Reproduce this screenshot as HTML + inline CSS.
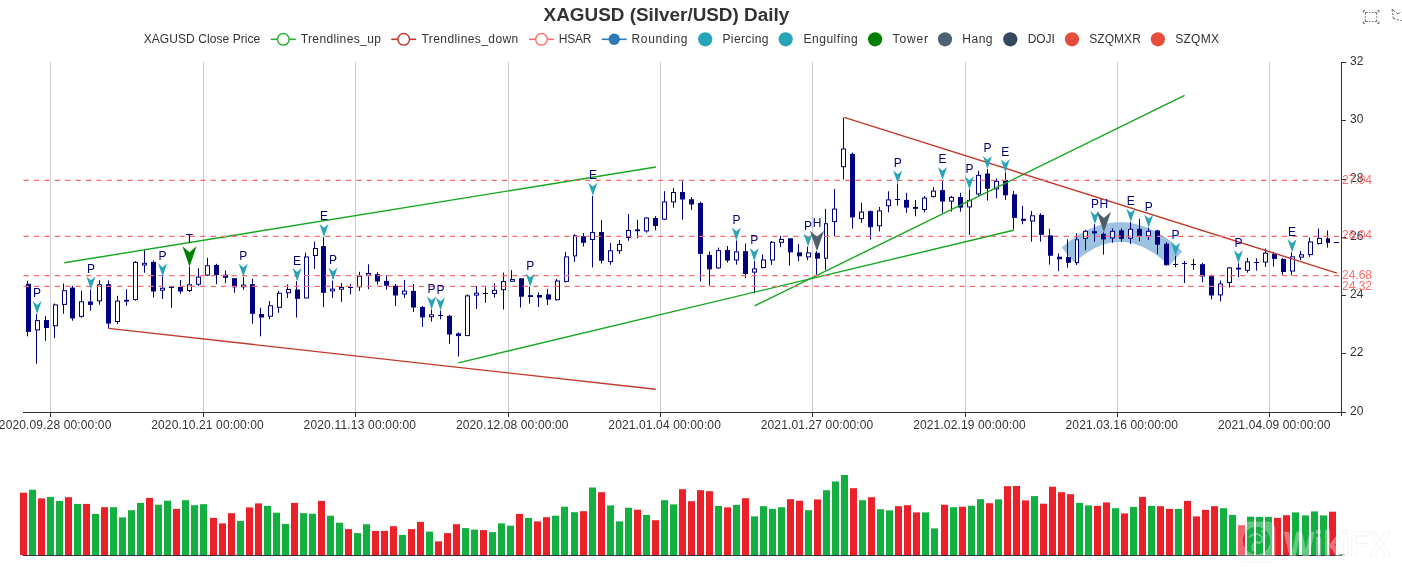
<!DOCTYPE html>
<html lang="en"><head><meta charset="utf-8"><title>XAGUSD (Silver/USD) Daily</title>
<style>html,body{margin:0;padding:0;background:#fff}body{width:1402px;height:578px;overflow:hidden;font-family:"Liberation Sans", Arial, sans-serif}svg{display:block;position:absolute;left:0;top:0}text{font-family:"Liberation Sans", Arial, sans-serif}</style></head><body>
<svg width="1402" height="578" viewBox="0 0 1402 578">
<rect width="1402" height="578" fill="#fff"/>
<g fill="#ccc">
<rect x="50" y="62" width="1" height="350"/>
<rect x="203" y="62" width="1" height="350"/>
<rect x="355" y="62" width="1" height="350"/>
<rect x="508" y="62" width="1" height="350"/>
<rect x="660" y="62" width="1" height="350"/>
<rect x="812" y="62" width="1" height="350"/>
<rect x="965" y="62" width="1" height="350"/>
<rect x="1117" y="62" width="1" height="350"/>
<rect x="1269" y="62" width="1" height="350"/>
</g>
<polyline fill="none" stroke="#9cc2df" stroke-width="19.6" stroke-linejoin="round" points="1068.0,255.0 1072.5,251.2 1077.0,247.7 1081.5,244.6 1086.0,241.8 1090.5,239.4 1094.9,237.3 1099.4,235.6 1103.9,234.2 1108.4,233.1 1112.9,232.4 1117.4,232.1 1121.9,232.0 1126.4,232.3 1130.9,233.0 1135.4,234.0 1139.9,235.4 1144.4,237.0 1148.8,239.1 1153.3,241.4 1157.8,244.2 1162.3,247.2 1166.8,250.6 1171.3,254.4 1175.8,258.5"/>
<g stroke="#00007f" stroke-width="1">
<line x1="27.5" y1="280.9" x2="27.5" y2="284.3"/>
<line x1="27.5" y1="331.3" x2="27.5" y2="336.4"/>
<rect x="26.5" y="284.3" width="4.0" height="47.0" fill="#00007f"/>
<line x1="36.5" y1="314.1" x2="36.5" y2="320.6"/>
<line x1="36.5" y1="329.9" x2="36.5" y2="363.7"/>
<rect x="35.5" y="320.6" width="4.0" height="9.3" fill="#fff"/>
<line x1="45.5" y1="316.0" x2="45.5" y2="320.6"/>
<line x1="45.5" y1="327.5" x2="45.5" y2="340.8"/>
<rect x="44.5" y="320.6" width="4.0" height="6.9" fill="#00007f"/>
<line x1="54.5" y1="303.5" x2="54.5" y2="304.9"/>
<line x1="54.5" y1="325.8" x2="54.5" y2="338.2"/>
<rect x="53.5" y="304.9" width="4.0" height="20.9" fill="#fff"/>
<line x1="63.5" y1="283.5" x2="63.5" y2="290.7"/>
<line x1="63.5" y1="304.4" x2="63.5" y2="313.8"/>
<rect x="62.5" y="290.7" width="4.0" height="13.7" fill="#fff"/>
<line x1="72.5" y1="285.9" x2="72.5" y2="288.1"/>
<line x1="72.5" y1="317.9" x2="72.5" y2="320.7"/>
<rect x="70.5" y="288.1" width="4.0" height="29.8" fill="#00007f"/>
<line x1="81.5" y1="290.7" x2="81.5" y2="301.8"/>
<line x1="81.5" y1="316.4" x2="81.5" y2="317.7"/>
<rect x="79.5" y="301.8" width="4.0" height="14.6" fill="#fff"/>
<line x1="90.5" y1="289.5" x2="90.5" y2="302.0"/>
<line x1="90.5" y1="304.4" x2="90.5" y2="310.7"/>
<rect x="88.5" y="302.0" width="4.0" height="2.4" fill="#00007f"/>
<line x1="99.5" y1="280.1" x2="99.5" y2="284.8"/>
<line x1="99.5" y1="301.0" x2="99.5" y2="304.7"/>
<rect x="97.5" y="284.8" width="4.0" height="16.1" fill="#fff"/>
<line x1="108.5" y1="280.4" x2="108.5" y2="284.7"/>
<line x1="108.5" y1="323.1" x2="108.5" y2="328.4"/>
<rect x="106.5" y="284.7" width="4.0" height="38.4" fill="#00007f"/>
<line x1="117.5" y1="295.8" x2="117.5" y2="301.1"/>
<line x1="117.5" y1="321.5" x2="117.5" y2="324.1"/>
<rect x="115.5" y="301.1" width="4.0" height="20.4" fill="#fff"/>
<line x1="126.5" y1="289.3" x2="126.5" y2="300.3"/>
<line x1="126.5" y1="301.1" x2="126.5" y2="305.6"/>
<rect x="124.5" y="300.3" width="4.0" height="0.8" fill="#00007f"/>
<line x1="135.5" y1="261.0" x2="135.5" y2="262.4"/>
<line x1="135.5" y1="299.6" x2="135.5" y2="300.6"/>
<rect x="133.5" y="262.4" width="4.0" height="37.2" fill="#fff"/>
<line x1="144.5" y1="250.1" x2="144.5" y2="263.3"/>
<line x1="144.5" y1="265.0" x2="144.5" y2="272.7"/>
<rect x="142.5" y="263.3" width="4.0" height="1.7" fill="#fff"/>
<line x1="153.5" y1="260.4" x2="153.5" y2="262.4"/>
<line x1="153.5" y1="291.0" x2="153.5" y2="297.5"/>
<rect x="151.5" y="262.4" width="4.0" height="28.6" fill="#00007f"/>
<line x1="162.5" y1="276.4" x2="162.5" y2="288.3"/>
<line x1="162.5" y1="290.2" x2="162.5" y2="298.9"/>
<rect x="160.5" y="288.3" width="4.0" height="1.9" fill="#fff"/>
<line x1="171.5" y1="286.7" x2="171.5" y2="307.8"/>
<line x1="169.0" y1="287.5" x2="174.0" y2="287.5"/>
<line x1="180.5" y1="280.1" x2="180.5" y2="287.4"/>
<line x1="180.5" y1="291.0" x2="180.5" y2="293.8"/>
<rect x="178.5" y="287.4" width="4.0" height="3.6" fill="#00007f"/>
<line x1="189.5" y1="266.7" x2="189.5" y2="284.8"/>
<line x1="189.5" y1="290.5" x2="189.5" y2="292.0"/>
<rect x="187.5" y="284.8" width="4.0" height="5.7" fill="#fff"/>
<line x1="198.5" y1="268.4" x2="198.5" y2="277.1"/>
<line x1="198.5" y1="284.2" x2="198.5" y2="286.0"/>
<rect x="196.5" y="277.1" width="4.0" height="7.1" fill="#fff"/>
<line x1="207.5" y1="257.8" x2="207.5" y2="265.8"/>
<line x1="207.5" y1="275.1" x2="207.5" y2="276.1"/>
<rect x="205.5" y="265.8" width="4.0" height="9.3" fill="#fff"/>
<line x1="216.5" y1="263.8" x2="216.5" y2="265.5"/>
<line x1="216.5" y1="274.4" x2="216.5" y2="284.2"/>
<rect x="214.5" y="265.5" width="4.0" height="8.9" fill="#00007f"/>
<line x1="225.5" y1="270.5" x2="225.5" y2="275.2"/>
<line x1="225.5" y1="277.3" x2="225.5" y2="283.3"/>
<rect x="223.5" y="275.2" width="4.0" height="2.1" fill="#00007f"/>
<line x1="234.5" y1="286.7" x2="234.5" y2="292.7"/>
<rect x="232.5" y="278.7" width="4.0" height="8.1" fill="#00007f"/>
<line x1="243.5" y1="276.8" x2="243.5" y2="285.1"/>
<line x1="243.5" y1="286.8" x2="243.5" y2="289.8"/>
<rect x="241.5" y="285.1" width="4.0" height="1.7" fill="#fff"/>
<line x1="252.5" y1="278.7" x2="252.5" y2="284.7"/>
<line x1="252.5" y1="313.3" x2="252.5" y2="323.7"/>
<rect x="250.5" y="284.7" width="4.0" height="28.6" fill="#00007f"/>
<line x1="260.5" y1="307.6" x2="260.5" y2="314.6"/>
<line x1="260.5" y1="317.0" x2="260.5" y2="336.4"/>
<rect x="259.5" y="314.6" width="4.0" height="2.4" fill="#00007f"/>
<line x1="269.5" y1="301.1" x2="269.5" y2="305.8"/>
<line x1="269.5" y1="316.2" x2="269.5" y2="319.3"/>
<rect x="268.5" y="305.8" width="4.0" height="10.4" fill="#fff"/>
<line x1="278.5" y1="291.0" x2="278.5" y2="293.3"/>
<line x1="278.5" y1="307.4" x2="278.5" y2="312.8"/>
<rect x="277.5" y="293.3" width="4.0" height="14.0" fill="#fff"/>
<line x1="287.5" y1="284.3" x2="287.5" y2="289.4"/>
<line x1="287.5" y1="292.9" x2="287.5" y2="298.0"/>
<rect x="286.5" y="289.4" width="4.0" height="3.4" fill="#fff"/>
<line x1="296.5" y1="281.2" x2="296.5" y2="290.0"/>
<line x1="296.5" y1="298.3" x2="296.5" y2="317.5"/>
<rect x="295.5" y="290.0" width="4.0" height="8.3" fill="#00007f"/>
<line x1="305.5" y1="252.6" x2="305.5" y2="257.0"/>
<rect x="304.5" y="257.0" width="4.0" height="41.0" fill="#fff"/>
<line x1="314.5" y1="241.7" x2="314.5" y2="248.5"/>
<line x1="314.5" y1="255.5" x2="314.5" y2="269.0"/>
<rect x="313.5" y="248.5" width="4.0" height="7.0" fill="#fff"/>
<line x1="323.5" y1="237.1" x2="323.5" y2="246.6"/>
<line x1="323.5" y1="292.3" x2="323.5" y2="307.1"/>
<rect x="321.5" y="246.6" width="4.0" height="45.7" fill="#00007f"/>
<line x1="332.5" y1="280.6" x2="332.5" y2="289.2"/>
<line x1="332.5" y1="290.9" x2="332.5" y2="298.1"/>
<rect x="330.5" y="289.2" width="4.0" height="1.7" fill="#fff"/>
<line x1="341.5" y1="283.0" x2="341.5" y2="287.5"/>
<line x1="341.5" y1="289.2" x2="341.5" y2="301.9"/>
<rect x="339.5" y="287.5" width="4.0" height="1.7" fill="#fff"/>
<line x1="350.5" y1="284.0" x2="350.5" y2="294.4"/>
<line x1="348.0" y1="287.5" x2="353.0" y2="287.5"/>
<line x1="359.5" y1="271.8" x2="359.5" y2="276.2"/>
<line x1="359.5" y1="286.8" x2="359.5" y2="290.9"/>
<rect x="357.5" y="276.2" width="4.0" height="10.6" fill="#fff"/>
<line x1="368.5" y1="264.3" x2="368.5" y2="273.5"/>
<line x1="368.5" y1="275.2" x2="368.5" y2="289.2"/>
<rect x="366.5" y="273.5" width="4.0" height="1.7" fill="#fff"/>
<line x1="377.5" y1="272.2" x2="377.5" y2="274.7"/>
<line x1="377.5" y1="281.0" x2="377.5" y2="284.6"/>
<rect x="375.5" y="274.7" width="4.0" height="6.3" fill="#00007f"/>
<line x1="386.5" y1="275.3" x2="386.5" y2="281.4"/>
<line x1="386.5" y1="285.2" x2="386.5" y2="289.8"/>
<rect x="384.5" y="281.4" width="4.0" height="3.8" fill="#00007f"/>
<line x1="395.5" y1="284.0" x2="395.5" y2="286.2"/>
<line x1="395.5" y1="294.9" x2="395.5" y2="306.0"/>
<rect x="393.5" y="286.2" width="4.0" height="8.8" fill="#00007f"/>
<line x1="404.5" y1="280.1" x2="404.5" y2="291.1"/>
<line x1="404.5" y1="294.1" x2="404.5" y2="298.1"/>
<rect x="402.5" y="291.1" width="4.0" height="2.9" fill="#fff"/>
<line x1="413.5" y1="284.0" x2="413.5" y2="291.4"/>
<line x1="413.5" y1="307.0" x2="413.5" y2="312.0"/>
<rect x="411.5" y="291.4" width="4.0" height="15.6" fill="#00007f"/>
<line x1="422.5" y1="306.0" x2="422.5" y2="307.5"/>
<line x1="422.5" y1="316.9" x2="422.5" y2="326.8"/>
<rect x="420.5" y="307.5" width="4.0" height="9.4" fill="#00007f"/>
<line x1="431.5" y1="309.5" x2="431.5" y2="314.8"/>
<line x1="431.5" y1="316.7" x2="431.5" y2="321.6"/>
<rect x="429.5" y="314.8" width="4.0" height="1.9" fill="#fff"/>
<line x1="440.5" y1="310.6" x2="440.5" y2="319.3"/>
<line x1="438.0" y1="315.5" x2="443.0" y2="315.5"/>
<line x1="449.5" y1="315.1" x2="449.5" y2="316.3"/>
<line x1="449.5" y1="333.9" x2="449.5" y2="343.8"/>
<rect x="447.5" y="316.3" width="4.0" height="17.7" fill="#00007f"/>
<line x1="458.5" y1="332.4" x2="458.5" y2="333.9"/>
<line x1="458.5" y1="335.6" x2="458.5" y2="356.6"/>
<rect x="456.5" y="333.9" width="4.0" height="1.7" fill="#00007f"/>
<line x1="467.5" y1="294.4" x2="467.5" y2="295.9"/>
<rect x="465.5" y="295.9" width="4.0" height="39.7" fill="#fff"/>
<line x1="476.5" y1="286.1" x2="476.5" y2="293.2"/>
<line x1="476.5" y1="295.1" x2="476.5" y2="308.9"/>
<rect x="474.5" y="293.2" width="4.0" height="1.9" fill="#fff"/>
<line x1="485.5" y1="287.3" x2="485.5" y2="302.9"/>
<line x1="483.0" y1="293.5" x2="488.0" y2="293.5"/>
<line x1="494.5" y1="283.2" x2="494.5" y2="290.3"/>
<line x1="494.5" y1="293.5" x2="494.5" y2="297.5"/>
<rect x="492.5" y="290.3" width="4.0" height="3.2" fill="#fff"/>
<line x1="503.5" y1="272.6" x2="503.5" y2="281.6"/>
<line x1="503.5" y1="289.7" x2="503.5" y2="309.5"/>
<rect x="501.5" y="281.6" width="4.0" height="8.1" fill="#fff"/>
<line x1="511.5" y1="270.1" x2="511.5" y2="279.6"/>
<rect x="510.5" y="279.6" width="4.0" height="1.7" fill="#fff"/>
<line x1="520.5" y1="278.0" x2="520.5" y2="278.9"/>
<line x1="520.5" y1="296.2" x2="520.5" y2="307.5"/>
<rect x="519.5" y="278.9" width="4.0" height="17.3" fill="#00007f"/>
<line x1="529.5" y1="286.7" x2="529.5" y2="295.7"/>
<line x1="529.5" y1="296.5" x2="529.5" y2="303.7"/>
<rect x="528.5" y="295.7" width="4.0" height="0.8" fill="#00007f"/>
<line x1="538.5" y1="292.3" x2="538.5" y2="295.5"/>
<line x1="538.5" y1="297.0" x2="538.5" y2="307.0"/>
<rect x="537.5" y="295.5" width="4.0" height="1.5" fill="#00007f"/>
<line x1="547.5" y1="288.8" x2="547.5" y2="294.9"/>
<line x1="547.5" y1="299.1" x2="547.5" y2="305.0"/>
<rect x="546.5" y="294.9" width="4.0" height="4.2" fill="#00007f"/>
<line x1="556.5" y1="278.8" x2="556.5" y2="281.0"/>
<line x1="556.5" y1="299.7" x2="556.5" y2="300.6"/>
<rect x="555.5" y="281.0" width="4.0" height="18.7" fill="#fff"/>
<line x1="565.5" y1="251.8" x2="565.5" y2="256.9"/>
<line x1="565.5" y1="281.4" x2="565.5" y2="282.5"/>
<rect x="564.5" y="256.9" width="4.0" height="24.5" fill="#fff"/>
<line x1="574.5" y1="234.2" x2="574.5" y2="235.7"/>
<line x1="574.5" y1="255.9" x2="574.5" y2="261.8"/>
<rect x="573.5" y="235.7" width="3.0" height="20.2" fill="#fff"/>
<line x1="583.5" y1="233.1" x2="583.5" y2="236.7"/>
<line x1="583.5" y1="242.4" x2="583.5" y2="246.6"/>
<rect x="581.5" y="236.7" width="4.0" height="5.6" fill="#00007f"/>
<line x1="592.5" y1="195.8" x2="592.5" y2="232.6"/>
<line x1="592.5" y1="239.5" x2="592.5" y2="267.4"/>
<rect x="590.5" y="232.6" width="4.0" height="6.9" fill="#fff"/>
<line x1="601.5" y1="220.0" x2="601.5" y2="232.6"/>
<line x1="601.5" y1="260.2" x2="601.5" y2="263.6"/>
<rect x="599.5" y="232.6" width="4.0" height="27.6" fill="#00007f"/>
<line x1="610.5" y1="243.1" x2="610.5" y2="250.8"/>
<line x1="610.5" y1="261.7" x2="610.5" y2="264.7"/>
<rect x="608.5" y="250.8" width="4.0" height="10.8" fill="#fff"/>
<line x1="619.5" y1="240.0" x2="619.5" y2="244.4"/>
<line x1="619.5" y1="250.7" x2="619.5" y2="253.9"/>
<rect x="617.5" y="244.4" width="4.0" height="6.3" fill="#fff"/>
<line x1="628.5" y1="214.0" x2="628.5" y2="230.5"/>
<line x1="628.5" y1="237.4" x2="628.5" y2="240.8"/>
<rect x="626.5" y="230.5" width="4.0" height="6.9" fill="#fff"/>
<line x1="637.5" y1="219.6" x2="637.5" y2="229.9"/>
<line x1="637.5" y1="230.7" x2="637.5" y2="238.3"/>
<rect x="635.5" y="229.9" width="4.0" height="0.8" fill="#00007f"/>
<line x1="646.5" y1="217.1" x2="646.5" y2="218.0"/>
<line x1="646.5" y1="231.0" x2="646.5" y2="232.7"/>
<rect x="644.5" y="218.0" width="4.0" height="12.9" fill="#fff"/>
<line x1="655.5" y1="216.1" x2="655.5" y2="218.5"/>
<line x1="655.5" y1="225.4" x2="655.5" y2="230.4"/>
<rect x="653.5" y="218.5" width="4.0" height="6.9" fill="#00007f"/>
<line x1="664.5" y1="191.2" x2="664.5" y2="201.9"/>
<line x1="664.5" y1="219.1" x2="664.5" y2="220.2"/>
<rect x="662.5" y="201.9" width="4.0" height="17.3" fill="#fff"/>
<line x1="673.5" y1="187.9" x2="673.5" y2="192.5"/>
<line x1="673.5" y1="201.9" x2="673.5" y2="207.8"/>
<rect x="671.5" y="192.5" width="4.0" height="9.4" fill="#fff"/>
<line x1="682.5" y1="181.2" x2="682.5" y2="192.5"/>
<line x1="682.5" y1="199.0" x2="682.5" y2="219.6"/>
<rect x="680.5" y="192.5" width="4.0" height="6.5" fill="#00007f"/>
<line x1="691.5" y1="197.2" x2="691.5" y2="199.8"/>
<line x1="691.5" y1="204.0" x2="691.5" y2="209.9"/>
<rect x="689.5" y="199.8" width="4.0" height="4.2" fill="#00007f"/>
<line x1="700.5" y1="201.6" x2="700.5" y2="203.5"/>
<line x1="700.5" y1="253.4" x2="700.5" y2="281.5"/>
<rect x="698.5" y="203.5" width="4.0" height="49.9" fill="#00007f"/>
<line x1="709.5" y1="251.4" x2="709.5" y2="255.4"/>
<line x1="709.5" y1="268.9" x2="709.5" y2="285.6"/>
<rect x="707.5" y="255.4" width="4.0" height="13.5" fill="#00007f"/>
<line x1="718.5" y1="247.6" x2="718.5" y2="250.6"/>
<line x1="718.5" y1="267.9" x2="718.5" y2="268.8"/>
<rect x="716.5" y="250.6" width="4.0" height="17.3" fill="#fff"/>
<line x1="727.5" y1="246.0" x2="727.5" y2="250.6"/>
<line x1="727.5" y1="260.0" x2="727.5" y2="262.6"/>
<rect x="725.5" y="250.6" width="4.0" height="9.4" fill="#00007f"/>
<line x1="736.5" y1="240.5" x2="736.5" y2="251.9"/>
<line x1="736.5" y1="260.0" x2="736.5" y2="264.7"/>
<rect x="734.5" y="251.9" width="4.0" height="8.1" fill="#fff"/>
<line x1="745.5" y1="243.5" x2="745.5" y2="251.7"/>
<line x1="745.5" y1="273.5" x2="745.5" y2="278.2"/>
<rect x="743.5" y="251.7" width="4.0" height="21.8" fill="#00007f"/>
<line x1="754.5" y1="261.1" x2="754.5" y2="268.9"/>
<line x1="754.5" y1="272.1" x2="754.5" y2="293.3"/>
<rect x="752.5" y="268.9" width="4.0" height="3.2" fill="#fff"/>
<line x1="762.5" y1="254.3" x2="762.5" y2="260.0"/>
<line x1="762.5" y1="267.5" x2="762.5" y2="268.4"/>
<rect x="761.5" y="260.0" width="4.0" height="7.5" fill="#fff"/>
<line x1="771.5" y1="241.0" x2="771.5" y2="242.3"/>
<line x1="771.5" y1="260.0" x2="771.5" y2="264.9"/>
<rect x="770.5" y="242.3" width="4.0" height="17.7" fill="#fff"/>
<line x1="780.5" y1="235.8" x2="780.5" y2="239.4"/>
<line x1="780.5" y1="242.4" x2="780.5" y2="247.2"/>
<rect x="779.5" y="239.4" width="4.0" height="2.9" fill="#fff"/>
<line x1="789.5" y1="251.9" x2="789.5" y2="265.7"/>
<rect x="788.5" y="238.8" width="4.0" height="13.1" fill="#00007f"/>
<line x1="798.5" y1="244.1" x2="798.5" y2="252.9"/>
<line x1="798.5" y1="255.9" x2="798.5" y2="261.1"/>
<rect x="797.5" y="252.9" width="4.0" height="2.9" fill="#00007f"/>
<line x1="807.5" y1="246.6" x2="807.5" y2="252.9"/>
<line x1="807.5" y1="256.9" x2="807.5" y2="260.1"/>
<rect x="806.5" y="252.9" width="4.0" height="4.0" fill="#fff"/>
<line x1="816.5" y1="251.2" x2="816.5" y2="253.3"/>
<line x1="816.5" y1="258.1" x2="816.5" y2="274.6"/>
<rect x="815.5" y="253.3" width="4.0" height="4.8" fill="#00007f"/>
<line x1="825.5" y1="208.8" x2="825.5" y2="223.7"/>
<line x1="825.5" y1="258.1" x2="825.5" y2="269.9"/>
<rect x="824.5" y="223.7" width="3.0" height="34.5" fill="#fff"/>
<line x1="834.5" y1="188.9" x2="834.5" y2="209.1"/>
<line x1="834.5" y1="221.6" x2="834.5" y2="236.1"/>
<rect x="832.5" y="209.1" width="4.0" height="12.5" fill="#fff"/>
<line x1="843.5" y1="117.7" x2="843.5" y2="149.0"/>
<line x1="843.5" y1="166.7" x2="843.5" y2="179.6"/>
<rect x="841.5" y="149.0" width="4.0" height="17.7" fill="#fff"/>
<line x1="852.5" y1="152.5" x2="852.5" y2="154.4"/>
<line x1="852.5" y1="216.9" x2="852.5" y2="228.6"/>
<rect x="850.5" y="154.4" width="4.0" height="62.5" fill="#00007f"/>
<line x1="861.5" y1="202.7" x2="861.5" y2="212.1"/>
<line x1="861.5" y1="218.6" x2="861.5" y2="222.8"/>
<rect x="859.5" y="212.1" width="4.0" height="6.5" fill="#fff"/>
<line x1="870.5" y1="210.4" x2="870.5" y2="211.6"/>
<line x1="870.5" y1="226.7" x2="870.5" y2="239.6"/>
<rect x="868.5" y="211.6" width="4.0" height="15.1" fill="#00007f"/>
<line x1="879.5" y1="206.9" x2="879.5" y2="210.9"/>
<line x1="879.5" y1="225.8" x2="879.5" y2="231.4"/>
<rect x="877.5" y="210.9" width="4.0" height="14.9" fill="#fff"/>
<line x1="888.5" y1="191.3" x2="888.5" y2="199.9"/>
<line x1="888.5" y1="205.7" x2="888.5" y2="212.3"/>
<rect x="886.5" y="199.9" width="4.0" height="5.8" fill="#fff"/>
<line x1="897.5" y1="183.6" x2="897.5" y2="205.7"/>
<line x1="895.0" y1="199.5" x2="900.0" y2="199.5"/>
<line x1="906.5" y1="192.9" x2="906.5" y2="200.4"/>
<line x1="906.5" y1="207.1" x2="906.5" y2="212.8"/>
<rect x="904.5" y="200.4" width="4.0" height="6.7" fill="#00007f"/>
<line x1="915.5" y1="199.9" x2="915.5" y2="207.4"/>
<line x1="915.5" y1="208.3" x2="915.5" y2="216.3"/>
<rect x="913.5" y="207.4" width="4.0" height="0.9" fill="#00007f"/>
<line x1="924.5" y1="195.9" x2="924.5" y2="198.1"/>
<line x1="924.5" y1="209.5" x2="924.5" y2="212.3"/>
<rect x="922.5" y="198.1" width="4.0" height="11.4" fill="#fff"/>
<line x1="933.5" y1="187.1" x2="933.5" y2="191.1"/>
<line x1="933.5" y1="196.4" x2="933.5" y2="197.6"/>
<rect x="931.5" y="191.1" width="4.0" height="5.3" fill="#fff"/>
<line x1="942.5" y1="180.1" x2="942.5" y2="190.6"/>
<line x1="942.5" y1="201.0" x2="942.5" y2="212.8"/>
<rect x="940.5" y="190.6" width="4.0" height="10.4" fill="#00007f"/>
<line x1="951.5" y1="195.9" x2="951.5" y2="197.4"/>
<line x1="951.5" y1="201.0" x2="951.5" y2="211.6"/>
<rect x="949.5" y="197.4" width="4.0" height="3.7" fill="#fff"/>
<line x1="960.5" y1="192.9" x2="960.5" y2="197.6"/>
<line x1="960.5" y1="207.1" x2="960.5" y2="211.6"/>
<rect x="958.5" y="197.6" width="4.0" height="9.5" fill="#00007f"/>
<line x1="969.5" y1="189.4" x2="969.5" y2="200.4"/>
<line x1="969.5" y1="206.9" x2="969.5" y2="234.9"/>
<rect x="967.5" y="200.4" width="4.0" height="6.5" fill="#fff"/>
<line x1="978.5" y1="170.7" x2="978.5" y2="175.4"/>
<line x1="978.5" y1="194.0" x2="978.5" y2="195.9"/>
<rect x="976.5" y="175.4" width="4.0" height="18.6" fill="#fff"/>
<line x1="987.5" y1="169.1" x2="987.5" y2="174.0"/>
<line x1="987.5" y1="188.2" x2="987.5" y2="200.6"/>
<rect x="985.5" y="174.0" width="4.0" height="14.2" fill="#00007f"/>
<line x1="996.5" y1="178.4" x2="996.5" y2="181.3"/>
<line x1="996.5" y1="188.9" x2="996.5" y2="198.3"/>
<rect x="994.5" y="181.3" width="4.0" height="7.6" fill="#fff"/>
<line x1="1005.5" y1="172.3" x2="1005.5" y2="180.6"/>
<line x1="1005.5" y1="194.7" x2="1005.5" y2="199.9"/>
<rect x="1003.5" y="180.6" width="4.0" height="14.2" fill="#00007f"/>
<line x1="1013.5" y1="191.0" x2="1013.5" y2="194.9"/>
<line x1="1013.5" y1="217.4" x2="1013.5" y2="229.8"/>
<rect x="1012.5" y="194.9" width="4.0" height="22.5" fill="#00007f"/>
<line x1="1022.5" y1="205.9" x2="1022.5" y2="219.3"/>
<line x1="1022.5" y1="220.3" x2="1022.5" y2="224.2"/>
<rect x="1021.5" y="219.3" width="4.0" height="1.0" fill="#00007f"/>
<line x1="1031.5" y1="210.9" x2="1031.5" y2="215.8"/>
<line x1="1031.5" y1="220.9" x2="1031.5" y2="241.7"/>
<rect x="1030.5" y="215.8" width="4.0" height="5.2" fill="#fff"/>
<line x1="1040.5" y1="213.3" x2="1040.5" y2="215.4"/>
<line x1="1040.5" y1="234.3" x2="1040.5" y2="241.7"/>
<rect x="1039.5" y="215.4" width="4.0" height="18.9" fill="#00007f"/>
<line x1="1049.5" y1="228.8" x2="1049.5" y2="235.9"/>
<line x1="1049.5" y1="255.2" x2="1049.5" y2="264.6"/>
<rect x="1048.5" y="235.9" width="4.0" height="19.3" fill="#00007f"/>
<line x1="1058.5" y1="253.3" x2="1058.5" y2="257.2"/>
<line x1="1058.5" y1="258.7" x2="1058.5" y2="271.2"/>
<rect x="1057.5" y="257.2" width="4.0" height="1.6" fill="#00007f"/>
<line x1="1067.5" y1="239.3" x2="1067.5" y2="257.6"/>
<line x1="1067.5" y1="262.1" x2="1067.5" y2="267.6"/>
<rect x="1066.5" y="257.6" width="4.0" height="4.6" fill="#00007f"/>
<line x1="1076.5" y1="233.2" x2="1076.5" y2="239.8"/>
<line x1="1076.5" y1="262.7" x2="1076.5" y2="265.0"/>
<rect x="1075.5" y="239.8" width="3.0" height="22.9" fill="#fff"/>
<line x1="1085.5" y1="229.8" x2="1085.5" y2="231.3"/>
<line x1="1085.5" y1="238.2" x2="1085.5" y2="250.3"/>
<rect x="1083.5" y="231.3" width="4.0" height="7.0" fill="#fff"/>
<line x1="1094.5" y1="224.2" x2="1094.5" y2="231.7"/>
<line x1="1094.5" y1="232.9" x2="1094.5" y2="241.7"/>
<rect x="1092.5" y="231.7" width="4.0" height="1.2" fill="#00007f"/>
<line x1="1103.5" y1="232.3" x2="1103.5" y2="234.3"/>
<line x1="1103.5" y1="238.8" x2="1103.5" y2="254.7"/>
<rect x="1101.5" y="234.3" width="4.0" height="4.6" fill="#00007f"/>
<line x1="1112.5" y1="228.4" x2="1112.5" y2="231.3"/>
<line x1="1112.5" y1="237.8" x2="1112.5" y2="242.7"/>
<rect x="1110.5" y="231.3" width="4.0" height="6.6" fill="#fff"/>
<line x1="1121.5" y1="228.4" x2="1121.5" y2="230.9"/>
<line x1="1121.5" y1="238.2" x2="1121.5" y2="241.7"/>
<rect x="1119.5" y="230.9" width="4.0" height="7.4" fill="#00007f"/>
<line x1="1130.5" y1="221.8" x2="1130.5" y2="229.3"/>
<line x1="1130.5" y1="238.2" x2="1130.5" y2="244.1"/>
<rect x="1128.5" y="229.3" width="4.0" height="8.9" fill="#fff"/>
<line x1="1139.5" y1="218.8" x2="1139.5" y2="229.3"/>
<line x1="1139.5" y1="235.7" x2="1139.5" y2="241.3"/>
<rect x="1137.5" y="229.3" width="4.0" height="6.4" fill="#00007f"/>
<line x1="1148.5" y1="227.8" x2="1148.5" y2="231.3"/>
<line x1="1148.5" y1="235.9" x2="1148.5" y2="240.1"/>
<rect x="1146.5" y="231.3" width="4.0" height="4.6" fill="#fff"/>
<line x1="1157.5" y1="229.8" x2="1157.5" y2="230.9"/>
<line x1="1157.5" y1="244.2" x2="1157.5" y2="254.1"/>
<rect x="1155.5" y="230.9" width="4.0" height="13.3" fill="#00007f"/>
<line x1="1166.5" y1="242.3" x2="1166.5" y2="244.2"/>
<line x1="1166.5" y1="264.7" x2="1166.5" y2="265.6"/>
<rect x="1164.5" y="244.2" width="4.0" height="20.5" fill="#00007f"/>
<line x1="1175.5" y1="255.7" x2="1175.5" y2="267.2"/>
<line x1="1173.0" y1="264.5" x2="1178.0" y2="264.5"/>
<line x1="1184.5" y1="260.9" x2="1184.5" y2="283.0"/>
<line x1="1182.0" y1="263.5" x2="1187.0" y2="263.5"/>
<line x1="1193.5" y1="258.9" x2="1193.5" y2="269.9"/>
<line x1="1191.0" y1="264.5" x2="1196.0" y2="264.5"/>
<line x1="1202.5" y1="262.8" x2="1202.5" y2="264.7"/>
<line x1="1202.5" y1="276.0" x2="1202.5" y2="282.2"/>
<rect x="1200.5" y="264.7" width="4.0" height="11.3" fill="#00007f"/>
<line x1="1211.5" y1="274.6" x2="1211.5" y2="276.1"/>
<line x1="1211.5" y1="295.0" x2="1211.5" y2="299.4"/>
<rect x="1209.5" y="276.1" width="4.0" height="18.9" fill="#00007f"/>
<line x1="1220.5" y1="280.5" x2="1220.5" y2="284.0"/>
<line x1="1220.5" y1="295.0" x2="1220.5" y2="301.4"/>
<rect x="1218.5" y="284.0" width="4.0" height="10.9" fill="#fff"/>
<line x1="1229.5" y1="267.1" x2="1229.5" y2="267.9"/>
<line x1="1229.5" y1="282.5" x2="1229.5" y2="287.6"/>
<rect x="1227.5" y="267.9" width="4.0" height="14.6" fill="#fff"/>
<line x1="1238.5" y1="263.3" x2="1238.5" y2="268.2"/>
<line x1="1238.5" y1="269.0" x2="1238.5" y2="277.3"/>
<rect x="1236.5" y="268.2" width="4.0" height="0.8" fill="#00007f"/>
<line x1="1247.5" y1="257.9" x2="1247.5" y2="261.9"/>
<line x1="1247.5" y1="270.2" x2="1247.5" y2="272.7"/>
<rect x="1245.5" y="261.9" width="4.0" height="8.4" fill="#fff"/>
<line x1="1256.5" y1="258.4" x2="1256.5" y2="270.7"/>
<line x1="1254.0" y1="262.5" x2="1259.0" y2="262.5"/>
<line x1="1265.5" y1="248.5" x2="1265.5" y2="253.2"/>
<line x1="1265.5" y1="262.0" x2="1265.5" y2="267.1"/>
<rect x="1263.5" y="253.2" width="4.0" height="8.9" fill="#fff"/>
<line x1="1273.5" y1="251.8" x2="1273.5" y2="254.3"/>
<line x1="1273.5" y1="258.4" x2="1273.5" y2="266.6"/>
<rect x="1272.5" y="254.3" width="4.0" height="4.1" fill="#00007f"/>
<line x1="1282.5" y1="257.9" x2="1282.5" y2="259.4"/>
<line x1="1282.5" y1="271.5" x2="1282.5" y2="274.8"/>
<rect x="1281.5" y="259.4" width="4.0" height="12.1" fill="#00007f"/>
<line x1="1291.5" y1="252.3" x2="1291.5" y2="256.9"/>
<line x1="1291.5" y1="271.0" x2="1291.5" y2="275.3"/>
<rect x="1290.5" y="256.9" width="4.0" height="14.1" fill="#fff"/>
<line x1="1300.5" y1="251.0" x2="1300.5" y2="254.8"/>
<line x1="1300.5" y1="257.1" x2="1300.5" y2="260.0"/>
<rect x="1299.5" y="254.8" width="4.0" height="2.3" fill="#fff"/>
<line x1="1309.5" y1="237.5" x2="1309.5" y2="242.0"/>
<line x1="1309.5" y1="254.6" x2="1309.5" y2="256.8"/>
<rect x="1308.5" y="242.0" width="4.0" height="12.6" fill="#fff"/>
<line x1="1318.5" y1="228.5" x2="1318.5" y2="238.4"/>
<line x1="1318.5" y1="243.4" x2="1318.5" y2="244.6"/>
<rect x="1317.5" y="238.4" width="4.0" height="5.1" fill="#fff"/>
<line x1="1327.5" y1="230.5" x2="1327.5" y2="238.9"/>
<line x1="1327.5" y1="242.3" x2="1327.5" y2="247.7"/>
<rect x="1326.5" y="238.9" width="3.0" height="3.4" fill="#00007f"/>
<line x1="1334.0" y1="242.5" x2="1339.0" y2="242.5"/>
</g>
<g fill="none" stroke-width="1.4" stroke-linecap="butt">
<line x1="64.3" y1="262.8" x2="655.9" y2="167.0" stroke="#14a81e"/>
<line x1="458.3" y1="362.9" x2="1013.5" y2="230.3" stroke="#14a81e"/>
<line x1="754.5" y1="305.9" x2="1184.6" y2="95.4" stroke="#14a81e"/>
<line x1="108.5" y1="328.4" x2="655.7" y2="389.3" stroke="#c0392b"/>
<line x1="844.2" y1="117.4" x2="1337.0" y2="273.1" stroke="#c0392b"/>
</g>
<g stroke="#ff6b6b" stroke-width="1.2" stroke-dasharray="5.25 5.15" fill="none">
<line x1="23.500" y1="180.4" x2="1341" y2="180.4"/>
<line x1="23.500" y1="236.3" x2="1341" y2="236.3"/>
<line x1="23.500" y1="275.6" x2="1341" y2="275.6"/>
<line x1="23.500" y1="286.4" x2="1341" y2="286.4"/>
</g>
<g font-size="12" fill="#00007f" text-anchor="middle">
<path d="M37.1 314.1 L32.6 301.0 L37.1 304.9 L41.6 301.0 Z" fill="#27a5b6"/>
<text x="37.1" y="297.4">P</text>
<path d="M90.9 289.5 L86.4 276.4 L90.9 280.2 L95.4 276.4 Z" fill="#27a5b6"/>
<text x="90.9" y="272.8">P</text>
<path d="M162.6 276.4 L158.1 263.3 L162.6 267.2 L167.1 263.3 Z" fill="#27a5b6"/>
<text x="162.6" y="259.7">P</text>
<path d="M189.5 266.7 L182.4 246.2 L189.5 252.2 L196.6 246.2 Z" fill="#008000"/>
<text x="189.5" y="242.6">T</text>
<path d="M243.3 276.8 L238.8 263.7 L243.3 267.6 L247.8 263.7 Z" fill="#27a5b6"/>
<text x="243.3" y="260.1">P</text>
<path d="M297.1 281.2 L292.6 268.1 L297.1 271.9 L301.6 268.1 Z" fill="#27a5b6"/>
<text x="297.1" y="264.5">E</text>
<path d="M324.0 237.1 L319.5 224.0 L324.0 227.8 L328.5 224.0 Z" fill="#27a5b6"/>
<text x="324.0" y="220.4">E</text>
<path d="M333.0 280.6 L328.5 267.5 L333.0 271.4 L337.5 267.5 Z" fill="#27a5b6"/>
<text x="333.0" y="263.9">P</text>
<path d="M431.6 309.5 L427.1 296.4 L431.6 300.3 L436.1 296.4 Z" fill="#27a5b6"/>
<text x="431.6" y="292.8">P</text>
<path d="M440.5 310.6 L436.0 297.5 L440.5 301.3 L445.0 297.5 Z" fill="#27a5b6"/>
<text x="440.5" y="293.9">P</text>
<path d="M530.2 286.7 L525.7 273.6 L530.2 277.5 L534.7 273.6 Z" fill="#27a5b6"/>
<text x="530.2" y="270.0">P</text>
<path d="M592.9 195.8 L588.4 182.7 L592.9 186.5 L597.4 182.7 Z" fill="#27a5b6"/>
<text x="592.9" y="179.1">E</text>
<path d="M736.4 240.5 L731.9 227.4 L736.4 231.3 L740.9 227.4 Z" fill="#27a5b6"/>
<text x="736.4" y="223.8">P</text>
<path d="M754.3 261.1 L749.8 248.0 L754.3 251.9 L758.8 248.0 Z" fill="#27a5b6"/>
<text x="754.3" y="244.4">P</text>
<path d="M808.1 246.6 L803.6 233.5 L808.1 237.4 L812.6 233.5 Z" fill="#27a5b6"/>
<text x="808.1" y="229.9">P</text>
<path d="M817.0 251.2 L809.9 230.7 L817.0 236.8 L824.1 230.7 Z" fill="#4d5f6b"/>
<text x="817.0" y="227.1">H</text>
<path d="M897.7 183.6 L893.2 170.5 L897.7 174.3 L902.2 170.5 Z" fill="#27a5b6"/>
<text x="897.7" y="166.9">P</text>
<path d="M942.5 180.1 L938.0 167.0 L942.5 170.8 L947.0 167.0 Z" fill="#27a5b6"/>
<text x="942.5" y="163.4">E</text>
<path d="M969.4 189.4 L964.9 176.3 L969.4 180.2 L973.9 176.3 Z" fill="#27a5b6"/>
<text x="969.4" y="172.7">P</text>
<path d="M987.4 169.1 L982.9 156.0 L987.4 159.8 L991.9 156.0 Z" fill="#27a5b6"/>
<text x="987.4" y="152.4">P</text>
<path d="M1005.3 172.3 L1000.8 159.2 L1005.3 163.1 L1009.8 159.2 Z" fill="#27a5b6"/>
<text x="1005.3" y="155.6">E</text>
<path d="M1094.9 224.2 L1090.4 211.1 L1094.9 215.0 L1099.4 211.1 Z" fill="#27a5b6"/>
<text x="1094.9" y="207.5">P</text>
<path d="M1103.9 232.3 L1096.8 211.8 L1103.9 217.9 L1111.0 211.8 Z" fill="#4d5f6b"/>
<text x="1103.9" y="208.2">H</text>
<path d="M1130.8 221.8 L1126.3 208.7 L1130.8 212.6 L1135.3 208.7 Z" fill="#27a5b6"/>
<text x="1130.8" y="205.1">E</text>
<path d="M1148.7 227.8 L1144.2 214.7 L1148.7 218.6 L1153.2 214.7 Z" fill="#27a5b6"/>
<text x="1148.7" y="211.1">P</text>
<path d="M1175.6 255.7 L1171.1 242.6 L1175.6 246.4 L1180.1 242.6 Z" fill="#27a5b6"/>
<text x="1175.6" y="239.0">P</text>
<path d="M1238.4 263.3 L1233.9 250.2 L1238.4 254.1 L1242.9 250.2 Z" fill="#27a5b6"/>
<text x="1238.4" y="246.6">P</text>
<path d="M1292.1 252.3 L1287.6 239.2 L1292.1 243.1 L1296.6 239.2 Z" fill="#27a5b6"/>
<text x="1292.1" y="235.6">E</text>
</g>
<g stroke="#333" stroke-width="1" fill="none" shape-rendering="crispEdges">
<line x1="23" y1="412.5" x2="1342" y2="412.5"/>
<line x1="1341.5" y1="62" x2="1341.5" y2="416"/>
<line x1="50.5" y1="412" x2="50.5" y2="417"/>
<line x1="203.5" y1="412" x2="203.5" y2="417"/>
<line x1="355.5" y1="412" x2="355.5" y2="417"/>
<line x1="508.5" y1="412" x2="508.5" y2="417"/>
<line x1="660.5" y1="412" x2="660.5" y2="417"/>
<line x1="812.5" y1="412" x2="812.5" y2="417"/>
<line x1="965.5" y1="412" x2="965.5" y2="417"/>
<line x1="1117.5" y1="412" x2="1117.5" y2="417"/>
<line x1="1269.5" y1="412" x2="1269.5" y2="417"/>
<line x1="1341" y1="412.5" x2="1346" y2="412.5"/>
<line x1="1341" y1="353.5" x2="1346" y2="353.5"/>
<line x1="1341" y1="295.5" x2="1346" y2="295.5"/>
<line x1="1341" y1="237.5" x2="1346" y2="237.5"/>
<line x1="1341" y1="179.5" x2="1346" y2="179.5"/>
<line x1="1341" y1="120.5" x2="1346" y2="120.5"/>
<line x1="1341" y1="62.5" x2="1346" y2="62.5"/>
</g>
<g font-size="12" fill="#333">
<text x="1350" y="414.5">20</text>
<text x="1350" y="356.3">22</text>
<text x="1350" y="298.1">24</text>
<text x="1350" y="239.8">26</text>
<text x="1350" y="181.6">28</text>
<text x="1350" y="123.3">30</text>
<text x="1350" y="65.1">32</text>
<text x="55.1" y="429" text-anchor="middle" textLength="112.5">2020.09.28 00:00:00</text>
<text x="207.5" y="429" text-anchor="middle" textLength="112.5">2020.10.21 00:00:00</text>
<text x="359.8" y="429" text-anchor="middle" textLength="112.5">2020.11.13 00:00:00</text>
<text x="512.2" y="429" text-anchor="middle" textLength="112.5">2020.12.08 00:00:00</text>
<text x="664.6" y="429" text-anchor="middle" textLength="112.5">2021.01.04 00:00:00</text>
<text x="817.0" y="429" text-anchor="middle" textLength="112.5">2021.01.27 00:00:00</text>
<text x="969.4" y="429" text-anchor="middle" textLength="112.5">2021.02.19 00:00:00</text>
<text x="1121.8" y="429" text-anchor="middle" textLength="112.5">2021.03.16 00:00:00</text>
<text x="1274.2" y="429" text-anchor="middle" textLength="112.5">2021.04.09 00:00:00</text>
</g>
<g font-size="12" fill="#ff6b6b">
<text x="1342" y="183.5">27.94</text>
<text x="1342" y="239.4">26.04</text>
<text x="1342" y="278.7">24.68</text>
<text x="1342" y="289.5">24.32</text>
</g>
<text x="666.4" y="21" font-size="18.9" font-weight="bold" fill="#333" text-anchor="middle">XAGUSD (Silver/USD) Daily</text>
<g font-size="12" fill="#333">
<text x="143.7" y="43" textLength="116.6">XAGUSD Close Price</text>
<line x1="270.8" y1="39.3" x2="295.8" y2="39.3" stroke="#1fb32b" stroke-width="1.6"/><circle cx="283.3" cy="39.3" r="5.8" fill="#fff" stroke="#1fb32b" stroke-width="1.4"/>
<text x="300.7" y="43" textLength="80.2">Trendlines_up</text>
<line x1="391.2" y1="39.3" x2="416.2" y2="39.3" stroke="#c0392b" stroke-width="1.6"/><circle cx="403.7" cy="39.3" r="5.8" fill="#fff" stroke="#c0392b" stroke-width="1.4"/>
<text x="421.5" y="43" textLength="96.8">Trendlines_down</text>
<line x1="529.0" y1="39.3" x2="554.0" y2="39.3" stroke="#ff6b6b" stroke-width="1.6"/><circle cx="541.5" cy="39.3" r="5.8" fill="#fff" stroke="#ff6b6b" stroke-width="1.4"/>
<text x="558.7" y="43" textLength="32.8">HSAR</text>
<line x1="601.7" y1="39.3" x2="626.7" y2="39.3" stroke="#2b7bbb" stroke-width="1.6"/><circle cx="614.2" cy="39.3" r="5.7" fill="#2b7bbb"/>
<text x="631.5" y="43" textLength="56.0">Rounding</text>
<circle cx="705.2" cy="39.3" r="7.1" fill="#27a5b6"/>
<text x="722.5" y="43" textLength="45.9">Piercing</text>
<circle cx="785.7" cy="39.3" r="7.1" fill="#27a5b6"/>
<text x="803.5" y="43" textLength="54.2">Engulfing</text>
<circle cx="875.1" cy="39.3" r="7.1" fill="#008000"/>
<text x="892.5" y="43" textLength="35.6">Tower</text>
<circle cx="945.0" cy="39.3" r="7.1" fill="#4f6272"/>
<text x="962.3" y="43" textLength="30.2">Hang</text>
<circle cx="1010.3" cy="39.3" r="7.1" fill="#34495e"/>
<text x="1027.7" y="43" textLength="27.2">DOJI</text>
<circle cx="1072.0" cy="39.3" r="7.1" fill="#e74c3c"/>
<text x="1089.3" y="43" textLength="51.5">SZQMXR</text>
<circle cx="1157.9" cy="39.3" r="7.1" fill="#e74c3c"/>
<text x="1175.2" y="43" textLength="43.7">SZQMX</text>
</g>
<g fill="none" stroke="#666" stroke-width="1" stroke-linecap="butt">
<path transform="translate(1363.2 10.64) scale(0.175 0.182)" vector-effect="non-scaling-stroke" d="M0.4,10V-0.2h9.8 M89.6,10V-0.2h-9.8 M0.4,60v10.2h9.8 M89.6,60v10.2h-9.8 M12.3,22.4V10.5h13.1 M33.6,10.5h7.8 M49.1,10.5h7.800 M77.500,22.4V10.5h-13.1 M12.3,31.1v8.2 M77.700,31.1v8.2 M12.3,47.6v11.9h13.1 M33.6,59.5h7.6 M49.1,59.5h7.700 M77.500,47.6v11.9h-13.1"/>
<path transform="translate(1389.2 7.800) scale(0.29)" vector-effect="non-scaling-stroke" d="M55.2,34.9c1.7,0,3.1,1.4,3.1,3.1s-1.4,3.1-3.1,3.1s-3.1-1.4-3.1-3.1S53.5,34.9,55.2,34.9z M50.4,51c1.7,0,3.1,1.4,3.1,3.1c0,1.7-1.4,3.1-3.1,3.1c-1.7,0-3.1-1.4-3.1-3.1C47.3,52.4,48.7,51,50.4,51z M55.6,37.1l1.5-7.8 M60.1,13.5l1.6-8.7l-7.8,4 M59,19l-1,5.3 M24,16.1l6.4,4.9l6.4-3.3 M48.5,11.6l-5.9,3.1 M19.1,12.8L9.7,5.1l1.1,7.7 M13.4,29.8l1,7.3l6.6,1.6 M11.6,18.4l1,6.1 M27.3,40.2l6.1,1.6 M49.9,52.1l-5.6-7.6l-4.9-1.2"/>
</g>
<g>
<rect x="20" y="492.7" width="7" height="62.5" fill="#ec2029"/>
<rect x="29" y="489.7" width="7" height="65.5" fill="#14af41"/>
<rect x="38" y="498.4" width="7" height="56.8" fill="#ec2029"/>
<rect x="47" y="496.9" width="7" height="58.3" fill="#14af41"/>
<rect x="56" y="500.9" width="7" height="54.3" fill="#14af41"/>
<rect x="65" y="497.2" width="7" height="58.0" fill="#ec2029"/>
<rect x="74" y="503.9" width="7" height="51.3" fill="#14af41"/>
<rect x="83" y="503.9" width="7" height="51.3" fill="#ec2029"/>
<rect x="92" y="513.9" width="7" height="41.3" fill="#14af41"/>
<rect x="101" y="507.2" width="7" height="48.0" fill="#ec2029"/>
<rect x="110" y="507.2" width="7" height="48.0" fill="#14af41"/>
<rect x="119" y="517.4" width="7" height="37.8" fill="#14af41"/>
<rect x="128" y="510.2" width="7" height="45.0" fill="#14af41"/>
<rect x="137" y="502.9" width="7" height="52.3" fill="#14af41"/>
<rect x="146" y="497.9" width="7" height="57.3" fill="#ec2029"/>
<rect x="155" y="504.7" width="7" height="50.5" fill="#14af41"/>
<rect x="164" y="500.7" width="7" height="54.5" fill="#14af41"/>
<rect x="173" y="508.9" width="7" height="46.3" fill="#ec2029"/>
<rect x="182" y="500.2" width="7" height="55.0" fill="#14af41"/>
<rect x="191" y="505.2" width="7" height="50.0" fill="#14af41"/>
<rect x="200" y="504.2" width="7" height="51.0" fill="#14af41"/>
<rect x="210" y="517.9" width="7" height="37.3" fill="#ec2029"/>
<rect x="219" y="523.4" width="7" height="31.8" fill="#ec2029"/>
<rect x="228" y="513.2" width="7" height="42.0" fill="#ec2029"/>
<rect x="237" y="520.9" width="7" height="34.3" fill="#14af41"/>
<rect x="246" y="507.4" width="7" height="47.8" fill="#ec2029"/>
<rect x="255" y="503.4" width="7" height="51.8" fill="#ec2029"/>
<rect x="264" y="505.9" width="7" height="49.3" fill="#14af41"/>
<rect x="273" y="512.7" width="7" height="42.5" fill="#14af41"/>
<rect x="282" y="523.9" width="7" height="31.3" fill="#14af41"/>
<rect x="291" y="502.9" width="7" height="52.3" fill="#ec2029"/>
<rect x="300" y="513.2" width="7" height="42.0" fill="#14af41"/>
<rect x="309" y="513.7" width="7" height="41.5" fill="#14af41"/>
<rect x="318" y="500.9" width="7" height="54.3" fill="#ec2029"/>
<rect x="327" y="515.7" width="7" height="39.5" fill="#14af41"/>
<rect x="336" y="522.7" width="7" height="32.5" fill="#14af41"/>
<rect x="345" y="529.1" width="7" height="26.1" fill="#ec2029"/>
<rect x="354" y="533.1" width="7" height="22.1" fill="#14af41"/>
<rect x="363" y="524.2" width="7" height="31.0" fill="#14af41"/>
<rect x="372" y="530.9" width="7" height="24.3" fill="#ec2029"/>
<rect x="381" y="530.9" width="7" height="24.3" fill="#ec2029"/>
<rect x="390" y="526.2" width="7" height="29.0" fill="#ec2029"/>
<rect x="399" y="534.9" width="7" height="20.3" fill="#14af41"/>
<rect x="408" y="529.1" width="7" height="26.1" fill="#ec2029"/>
<rect x="417" y="521.9" width="7" height="33.3" fill="#ec2029"/>
<rect x="426" y="531.6" width="7" height="23.6" fill="#14af41"/>
<rect x="435" y="541.4" width="7" height="13.8" fill="#ec2029"/>
<rect x="444" y="533.1" width="7" height="22.1" fill="#ec2029"/>
<rect x="453" y="524.2" width="7" height="31.0" fill="#ec2029"/>
<rect x="462" y="528.1" width="7" height="27.1" fill="#14af41"/>
<rect x="471" y="529.6" width="7" height="25.6" fill="#14af41"/>
<rect x="480" y="530.1" width="7" height="25.1" fill="#ec2029"/>
<rect x="489" y="532.1" width="7" height="23.1" fill="#14af41"/>
<rect x="498" y="523.4" width="7" height="31.8" fill="#14af41"/>
<rect x="507" y="525.7" width="7" height="29.5" fill="#14af41"/>
<rect x="516" y="513.9" width="7" height="41.3" fill="#ec2029"/>
<rect x="525" y="517.9" width="7" height="37.3" fill="#14af41"/>
<rect x="534" y="521.4" width="7" height="33.8" fill="#ec2029"/>
<rect x="543" y="517.2" width="7" height="38.0" fill="#ec2029"/>
<rect x="552" y="515.7" width="7" height="39.5" fill="#14af41"/>
<rect x="561" y="506.7" width="7" height="48.5" fill="#14af41"/>
<rect x="571" y="512.2" width="7" height="43.0" fill="#14af41"/>
<rect x="580" y="511.2" width="7" height="44.0" fill="#ec2029"/>
<rect x="589" y="487.5" width="7" height="67.7" fill="#14af41"/>
<rect x="598" y="492.2" width="7" height="63.0" fill="#ec2029"/>
<rect x="607" y="505.4" width="7" height="49.8" fill="#14af41"/>
<rect x="616" y="521.4" width="7" height="33.8" fill="#14af41"/>
<rect x="625" y="507.7" width="7" height="47.5" fill="#14af41"/>
<rect x="634" y="509.7" width="7" height="45.5" fill="#ec2029"/>
<rect x="643" y="514.9" width="7" height="40.3" fill="#14af41"/>
<rect x="652" y="520.2" width="7" height="35.0" fill="#ec2029"/>
<rect x="661" y="500.2" width="7" height="55.0" fill="#14af41"/>
<rect x="670" y="504.4" width="7" height="50.8" fill="#14af41"/>
<rect x="679" y="489.2" width="7" height="66.0" fill="#ec2029"/>
<rect x="688" y="501.2" width="7" height="54.0" fill="#ec2029"/>
<rect x="697" y="490.2" width="7" height="65.0" fill="#ec2029"/>
<rect x="706" y="491.2" width="7" height="64.0" fill="#ec2029"/>
<rect x="715" y="505.9" width="7" height="49.3" fill="#14af41"/>
<rect x="724" y="507.4" width="7" height="47.8" fill="#ec2029"/>
<rect x="733" y="504.9" width="7" height="50.3" fill="#14af41"/>
<rect x="742" y="498.2" width="7" height="57.0" fill="#ec2029"/>
<rect x="751" y="516.4" width="7" height="38.8" fill="#14af41"/>
<rect x="760" y="506.2" width="7" height="49.0" fill="#14af41"/>
<rect x="769" y="508.9" width="7" height="46.3" fill="#14af41"/>
<rect x="778" y="507.2" width="7" height="48.0" fill="#14af41"/>
<rect x="787" y="499.2" width="7" height="56.0" fill="#ec2029"/>
<rect x="796" y="500.7" width="7" height="54.5" fill="#ec2029"/>
<rect x="805" y="510.2" width="7" height="45.0" fill="#14af41"/>
<rect x="814" y="499.4" width="7" height="55.8" fill="#ec2029"/>
<rect x="823" y="490.2" width="7" height="65.0" fill="#14af41"/>
<rect x="832" y="481.5" width="7" height="73.7" fill="#14af41"/>
<rect x="841" y="475.0" width="7" height="80.2" fill="#14af41"/>
<rect x="850" y="488.2" width="7" height="67.0" fill="#ec2029"/>
<rect x="859" y="500.2" width="7" height="55.0" fill="#14af41"/>
<rect x="868" y="497.2" width="7" height="58.0" fill="#ec2029"/>
<rect x="877" y="509.2" width="7" height="46.0" fill="#14af41"/>
<rect x="886" y="510.4" width="7" height="44.8" fill="#14af41"/>
<rect x="895" y="506.2" width="7" height="49.0" fill="#ec2029"/>
<rect x="904" y="505.2" width="7" height="50.0" fill="#ec2029"/>
<rect x="913" y="512.4" width="7" height="42.8" fill="#ec2029"/>
<rect x="922" y="512.4" width="7" height="42.8" fill="#14af41"/>
<rect x="931" y="528.4" width="7" height="26.8" fill="#14af41"/>
<rect x="941" y="504.7" width="7" height="50.5" fill="#ec2029"/>
<rect x="950" y="507.2" width="7" height="48.0" fill="#14af41"/>
<rect x="959" y="506.7" width="7" height="48.5" fill="#ec2029"/>
<rect x="968" y="505.7" width="7" height="49.5" fill="#14af41"/>
<rect x="977" y="499.2" width="7" height="56.0" fill="#14af41"/>
<rect x="986" y="503.2" width="7" height="52.0" fill="#ec2029"/>
<rect x="995" y="499.4" width="7" height="55.8" fill="#14af41"/>
<rect x="1004" y="486.2" width="7" height="69.0" fill="#ec2029"/>
<rect x="1013" y="486.0" width="7" height="69.2" fill="#ec2029"/>
<rect x="1022" y="500.4" width="7" height="54.8" fill="#ec2029"/>
<rect x="1031" y="496.1" width="7" height="59.1" fill="#14af41"/>
<rect x="1040" y="503.7" width="7" height="51.5" fill="#ec2029"/>
<rect x="1049" y="486.7" width="7" height="68.5" fill="#ec2029"/>
<rect x="1058" y="492.2" width="7" height="63.0" fill="#ec2029"/>
<rect x="1067" y="494.2" width="7" height="61.0" fill="#ec2029"/>
<rect x="1076" y="502.9" width="7" height="52.3" fill="#14af41"/>
<rect x="1085" y="505.4" width="7" height="49.8" fill="#14af41"/>
<rect x="1094" y="505.9" width="7" height="49.3" fill="#ec2029"/>
<rect x="1103" y="502.4" width="7" height="52.8" fill="#ec2029"/>
<rect x="1112" y="508.2" width="7" height="47.0" fill="#14af41"/>
<rect x="1121" y="513.4" width="7" height="41.8" fill="#ec2029"/>
<rect x="1130" y="506.9" width="7" height="48.3" fill="#14af41"/>
<rect x="1139" y="496.9" width="7" height="58.3" fill="#ec2029"/>
<rect x="1148" y="505.9" width="7" height="49.3" fill="#14af41"/>
<rect x="1157" y="506.2" width="7" height="49.0" fill="#ec2029"/>
<rect x="1166" y="508.9" width="7" height="46.3" fill="#ec2029"/>
<rect x="1175" y="508.9" width="7" height="46.3" fill="#14af41"/>
<rect x="1184" y="500.9" width="7" height="54.3" fill="#ec2029"/>
<rect x="1193" y="516.4" width="7" height="38.8" fill="#ec2029"/>
<rect x="1202" y="509.9" width="7" height="45.3" fill="#ec2029"/>
<rect x="1211" y="506.2" width="7" height="49.0" fill="#ec2029"/>
<rect x="1220" y="508.2" width="7" height="47.0" fill="#14af41"/>
<rect x="1229" y="514.9" width="7" height="40.3" fill="#14af41"/>
<rect x="1238" y="525.2" width="7" height="30.0" fill="#ec2029"/>
<rect x="1247" y="516.7" width="7" height="38.5" fill="#14af41"/>
<rect x="1256" y="516.9" width="7" height="38.3" fill="#14af41"/>
<rect x="1265" y="516.9" width="7" height="38.3" fill="#14af41"/>
<rect x="1274" y="517.9" width="7" height="37.3" fill="#ec2029"/>
<rect x="1283" y="515.2" width="7" height="40.0" fill="#ec2029"/>
<rect x="1292" y="512.4" width="7" height="42.8" fill="#14af41"/>
<rect x="1302" y="515.4" width="7" height="39.8" fill="#14af41"/>
<rect x="1311" y="511.4" width="7" height="43.8" fill="#14af41"/>
<rect x="1320" y="515.4" width="7" height="39.8" fill="#14af41"/>
<rect x="1329" y="511.7" width="7" height="43.5" fill="#ec2029"/>
<rect x="1338" y="554.4" width="7" height="0.8" fill="#14af41"/>
<rect x="23" y="555" width="1319" height="1" fill="#333" shape-rendering="crispEdges"/>
</g>
<g>
<path fill-rule="evenodd" fill="#fff" fill-opacity="0.32" stroke="#d8d8d8" stroke-opacity="0.5" stroke-width="0.7" d="M1244.500 522h23.500a7 7 0 0 1 7 7v26a7 7 0 0 1-7 7h-23.500a7 7 0 0 1-7-7v-26a7 7 0 0 1 7-7z M1256.500 526.300a14.300 14.300 0 1 0 0.010 0z"/>
<path fill="none" stroke="#fff" stroke-opacity="0.32" stroke-width="2.2" stroke-linecap="round" d="M1250 536.500c4-4 10-3 12 1c1.500 3-1 6-4.500 5.500 M1253 550c-2-5 2-9 7-7.500 M1262 531l3 5"/>
<text x="1284" y="555.5" font-size="35" font-weight="bold" fill="#fff" fill-opacity="0.34" stroke="#d0d0d0" stroke-opacity="0.35" stroke-width="0.6" textLength="107" lengthAdjust="spacingAndGlyphs">WikiFX</text>
</g>
</svg></body></html>
